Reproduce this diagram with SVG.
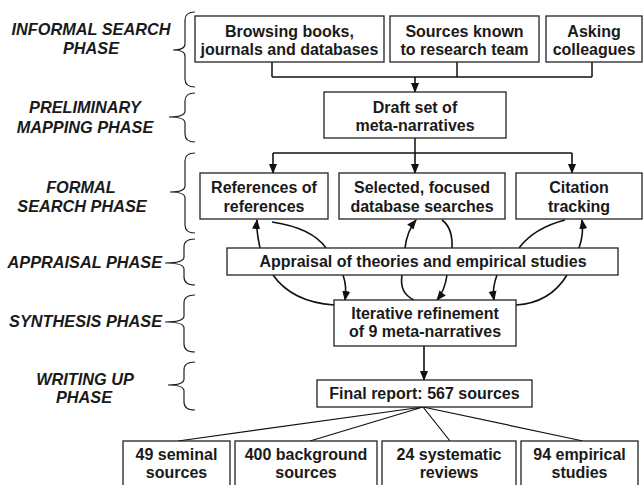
<svg xmlns="http://www.w3.org/2000/svg" width="644" height="485" viewBox="0 0 644 485">
<defs>
<marker id="ah" markerUnits="userSpaceOnUse" markerWidth="10" markerHeight="10" viewBox="0 0 10 10" refX="9" refY="5" orient="auto">
<path d="M0,1 L10,5 L0,9 Z" fill="#111"/>
</marker>
</defs>
<style>
.box{fill:#fff;stroke:#222;stroke-width:1.3}
.t{font-family:"Liberation Sans",Arial,sans-serif;font-weight:bold;font-size:16px;fill:#1a1a1a;text-anchor:middle}
.ph{font-family:"Liberation Sans",Arial,sans-serif;font-weight:bold;font-style:italic;font-size:16.3px;fill:#1a1a1a;text-anchor:middle}
.phe{text-anchor:end}
.br{fill:none;stroke:#222;stroke-width:1.2}
.ln{fill:none;stroke:#111;stroke-width:1.5}
.ar{fill:none;stroke:#111;stroke-width:1.6;marker-end:url(#ah)}
.cv{fill:none;stroke:#111;stroke-width:1.6}
</style>

<g id="phases">
<text class="ph" x="91" y="35">INFORMAL SEARCH</text>
<text class="ph" x="91" y="54">PHASE</text>
<text class="ph" x="85" y="113">PRELIMINARY</text>
<text class="ph" x="85" y="133">MAPPING PHASE</text>
<text class="ph" x="81" y="193">FORMAL</text>
<text class="ph" x="82" y="212">SEARCH PHASE</text>
<text class="ph phe" x="162" y="268">APPRAISAL PHASE</text>
<text class="ph phe" x="162" y="327">SYNTHESIS PHASE</text>
<text class="ph" x="85" y="385">WRITING UP</text>
<text class="ph" x="84" y="403">PHASE</text>
</g>

<g id="braces">
<path class="br" d="M195,12 Q185,12 185,20 L185,44 Q185,50 173,50 Q185,50 185,56 L185,79 Q185,87 195,87"/>
<path class="br" d="M195,93 Q185,93 185,101 L185,111 Q185,117 169,117 Q185,117 185,123 L185,134 Q185,142 195,142"/>
<path class="br" d="M195,153 Q185,153 185,161 L185,186 Q185,192 170,192 Q185,192 185,198 L185,225 Q185,233 195,233"/>
<path class="br" d="M195,239 Q184,239 184,247 L184,257 Q184,263 165,263 Q184,263 184,269 L184,277 Q184,285 195,285"/>
<path class="br" d="M195,295 Q184,295 184,303 L184,316 Q184,322 165,322 Q184,322 184,328 L184,344 Q184,352 195,352"/>
<path class="br" d="M195,362 Q184,362 184,370 L184,379 Q184,385 168,385 Q184,385 184,391 L184,402 Q184,410 195,410"/>
</g>

<g id="connectors">
<path class="ln" d="M272,62 V77 M457,62 V77 M592,62 V77 M272,77 H592"/>
<path class="ar" d="M415,77 V92"/>
<path class="ln" d="M415,138 V153 M273,153 H572"/>
<path class="ar" d="M273,153 V173"/>
<path class="ar" d="M415,153 V173"/>
<path class="ar" d="M572,153 V173"/>
<path class="ar" d="M260,248 C258,238 256,230 257,220"/>
<path class="cv" d="M272,222 Q312,228 326,248"/>
<path class="cv" d="M273,275 Q292,302 334,305"/>
<path class="ar" d="M343,275 Q347,286 345,300"/>
<path class="ar" d="M405,248 Q407,231 416,220"/>
<path class="cv" d="M442,220 Q453,228 452,248"/>
<path class="cv" d="M402,275 Q399,293 414,300"/>
<path class="ar" d="M447,275 Q445,290 437,300"/>
<path class="cv" d="M565,220 Q534,228 519,248"/>
<path class="ar" d="M579,248 Q584,234 582,220"/>
<path class="ar" d="M497,275 Q492,288 494,300"/>
<path class="cv" d="M567,275 Q550,303 516,305"/>
<path class="ar" d="M424,346 V380"/>
<path class="ln" d="M423,407 L178,441 M423,407 L310,441 M423,407 L450,441 M423,407 L583,441" style="stroke-width:1.2"/>
</g>

<g id="n-browsing">
<rect class="box" x="195" y="16" width="189" height="46"/>
<text class="t" x="289.5" y="37">Browsing books,</text>
<text class="t" x="289.5" y="55">journals and databases</text>
</g>
<g id="n-sources">
<rect class="box" x="390" y="16" width="149" height="46"/>
<text class="t" x="464.5" y="37">Sources known</text>
<text class="t" x="464.5" y="55">to research team</text>
</g>
<g id="n-asking">
<rect class="box" x="546" y="16" width="96" height="46"/>
<text class="t" x="594" y="37">Asking</text>
<text class="t" x="594" y="55">colleagues</text>
</g>
<g id="n-draft">
<rect class="box" x="324" y="92" width="182" height="46"/>
<text class="t" x="415" y="113">Draft set of</text>
<text class="t" x="415" y="131">meta-narratives</text>
</g>
<g id="n-references">
<rect class="box" x="200" y="173" width="128" height="46"/>
<text class="t" x="264" y="193">References of</text>
<text class="t" x="264" y="212">references</text>
</g>
<g id="n-selected">
<rect class="box" x="339" y="173" width="166" height="46"/>
<text class="t" x="422" y="193">Selected, focused</text>
<text class="t" x="422" y="212">database searches</text>
</g>
<g id="n-citation">
<rect class="box" x="516" y="173" width="126" height="46"/>
<text class="t" x="579" y="193">Citation</text>
<text class="t" x="579" y="212">tracking</text>
</g>
<g id="n-appraisal">
<rect class="box" x="227" y="248" width="391" height="27"/>
<text class="t" x="423" y="267">Appraisal of theories and empirical studies</text>
</g>
<g id="n-iterative">
<rect class="box" x="334" y="300" width="182" height="46"/>
<text class="t" x="425" y="319">Iterative refinement</text>
<text class="t" x="425" y="337">of 9 meta-narratives</text>
</g>
<g id="n-final">
<rect class="box" x="317" y="380" width="215" height="27"/>
<text class="t" x="424.5" y="399">Final report: 567 sources</text>
</g>
<g id="n-seminal">
<rect class="box" x="123" y="441" width="107" height="50"/>
<text class="t" x="176.5" y="460">49 seminal</text>
<text class="t" x="176.5" y="478">sources</text>
</g>
<g id="n-background">
<rect class="box" x="235" y="441" width="142" height="50"/>
<text class="t" x="306" y="460">400 background</text>
<text class="t" x="306" y="478">sources</text>
</g>
<g id="n-systematic">
<rect class="box" x="382" y="441" width="134" height="50"/>
<text class="t" x="449" y="460">24 systematic</text>
<text class="t" x="449" y="478">reviews</text>
</g>
<g id="n-empirical">
<rect class="box" x="521" y="441" width="117" height="50"/>
<text class="t" x="579.5" y="460">94 empirical</text>
<text class="t" x="579.5" y="478">studies</text>
</g>
</svg>
